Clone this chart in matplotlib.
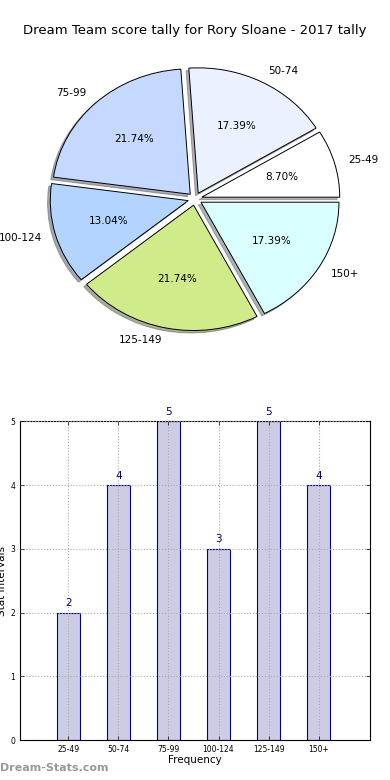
import numpy as np
import matplotlib
matplotlib.use('Agg')
import matplotlib.pyplot as plt

labels = ['25-49', '50-74', '75-99', '100-124', '125-149', '150+']
counts = [2, 4, 5, 3, 5, 4]
pie_colors = ['#FFFFFF', '#EBF1FF', '#C5D8FF', '#B3D4FF', '#D0EB8A', '#D9FFFF']

def main():
    fig = plt.figure(figsize=(3.9, 7.8), dpi=100)

    # pie on top
    ax1 = fig.add_axes([0.051, 0.541, 0.898, 0.408])
    wedges, texts, autotexts = ax1.pie(counts, labels=labels, colors=pie_colors,
                                       explode=[0.05] * len(counts), autopct='%.2f%%',
                                       shadow={'ox': -0.014, 'oy': -0.014, 'shade': 0.6},
                                       startangle=0, radius=0.985,
                                       wedgeprops={'edgecolor': 'black', 'linewidth': 0.7},
                                       textprops={'fontsize': 7.5})
    ax1.set_aspect('auto')
    ax1.set_xlim(-1.25, 1.25)
    ax1.set_ylim(-1.25, 1.25)
    ax1.axis('off')
    fig.text(0.5, 0.961, 'Dream Team score tally for Rory Sloane - 2017 tally',
             ha='center', va='center', fontsize=9.5)

    # bar chart below
    ax2 = fig.add_axes([0.051, 0.051, 0.898, 0.409])
    x = np.arange(len(counts))
    ax2.bar(x, counts, width=0.47, color='#CCCCE5', edgecolor='#000099', linewidth=0.8, zorder=2)
    for xi, c in zip(x, counts):
        ax2.text(xi, c + 0.07, str(c), ha='center', va='bottom', color='navy', fontsize=7.5)
    ax2.set_xlim(-0.97, 6.03)
    ax2.set_ylim(0, 5)
    ax2.set_xticks(x)
    ax2.set_xticklabels(labels, fontsize=5.5)
    ax2.set_yticks(range(6))
    ax2.tick_params(axis='y', labelsize=5.5)
    ax2.tick_params(direction='in', top=True, right=True, length=3, width=0.5)
    ax2.grid(True, linestyle=':', color='#AAAAAA', linewidth=0.8, zorder=3)
    ax2.set_axisbelow(False)
    ax2.set_xlabel('Frequency', fontsize=7.5, labelpad=1)
    ax2.set_ylabel('Stat Intervals', fontsize=7.5, labelpad=2)

    fig.text(0.0, 0.012, 'Dream-Stats.com', color='#999999', fontsize=8, fontweight='bold')

    fig.savefig('out.png', dpi=100)

if __name__ == '__main__':
    main()
